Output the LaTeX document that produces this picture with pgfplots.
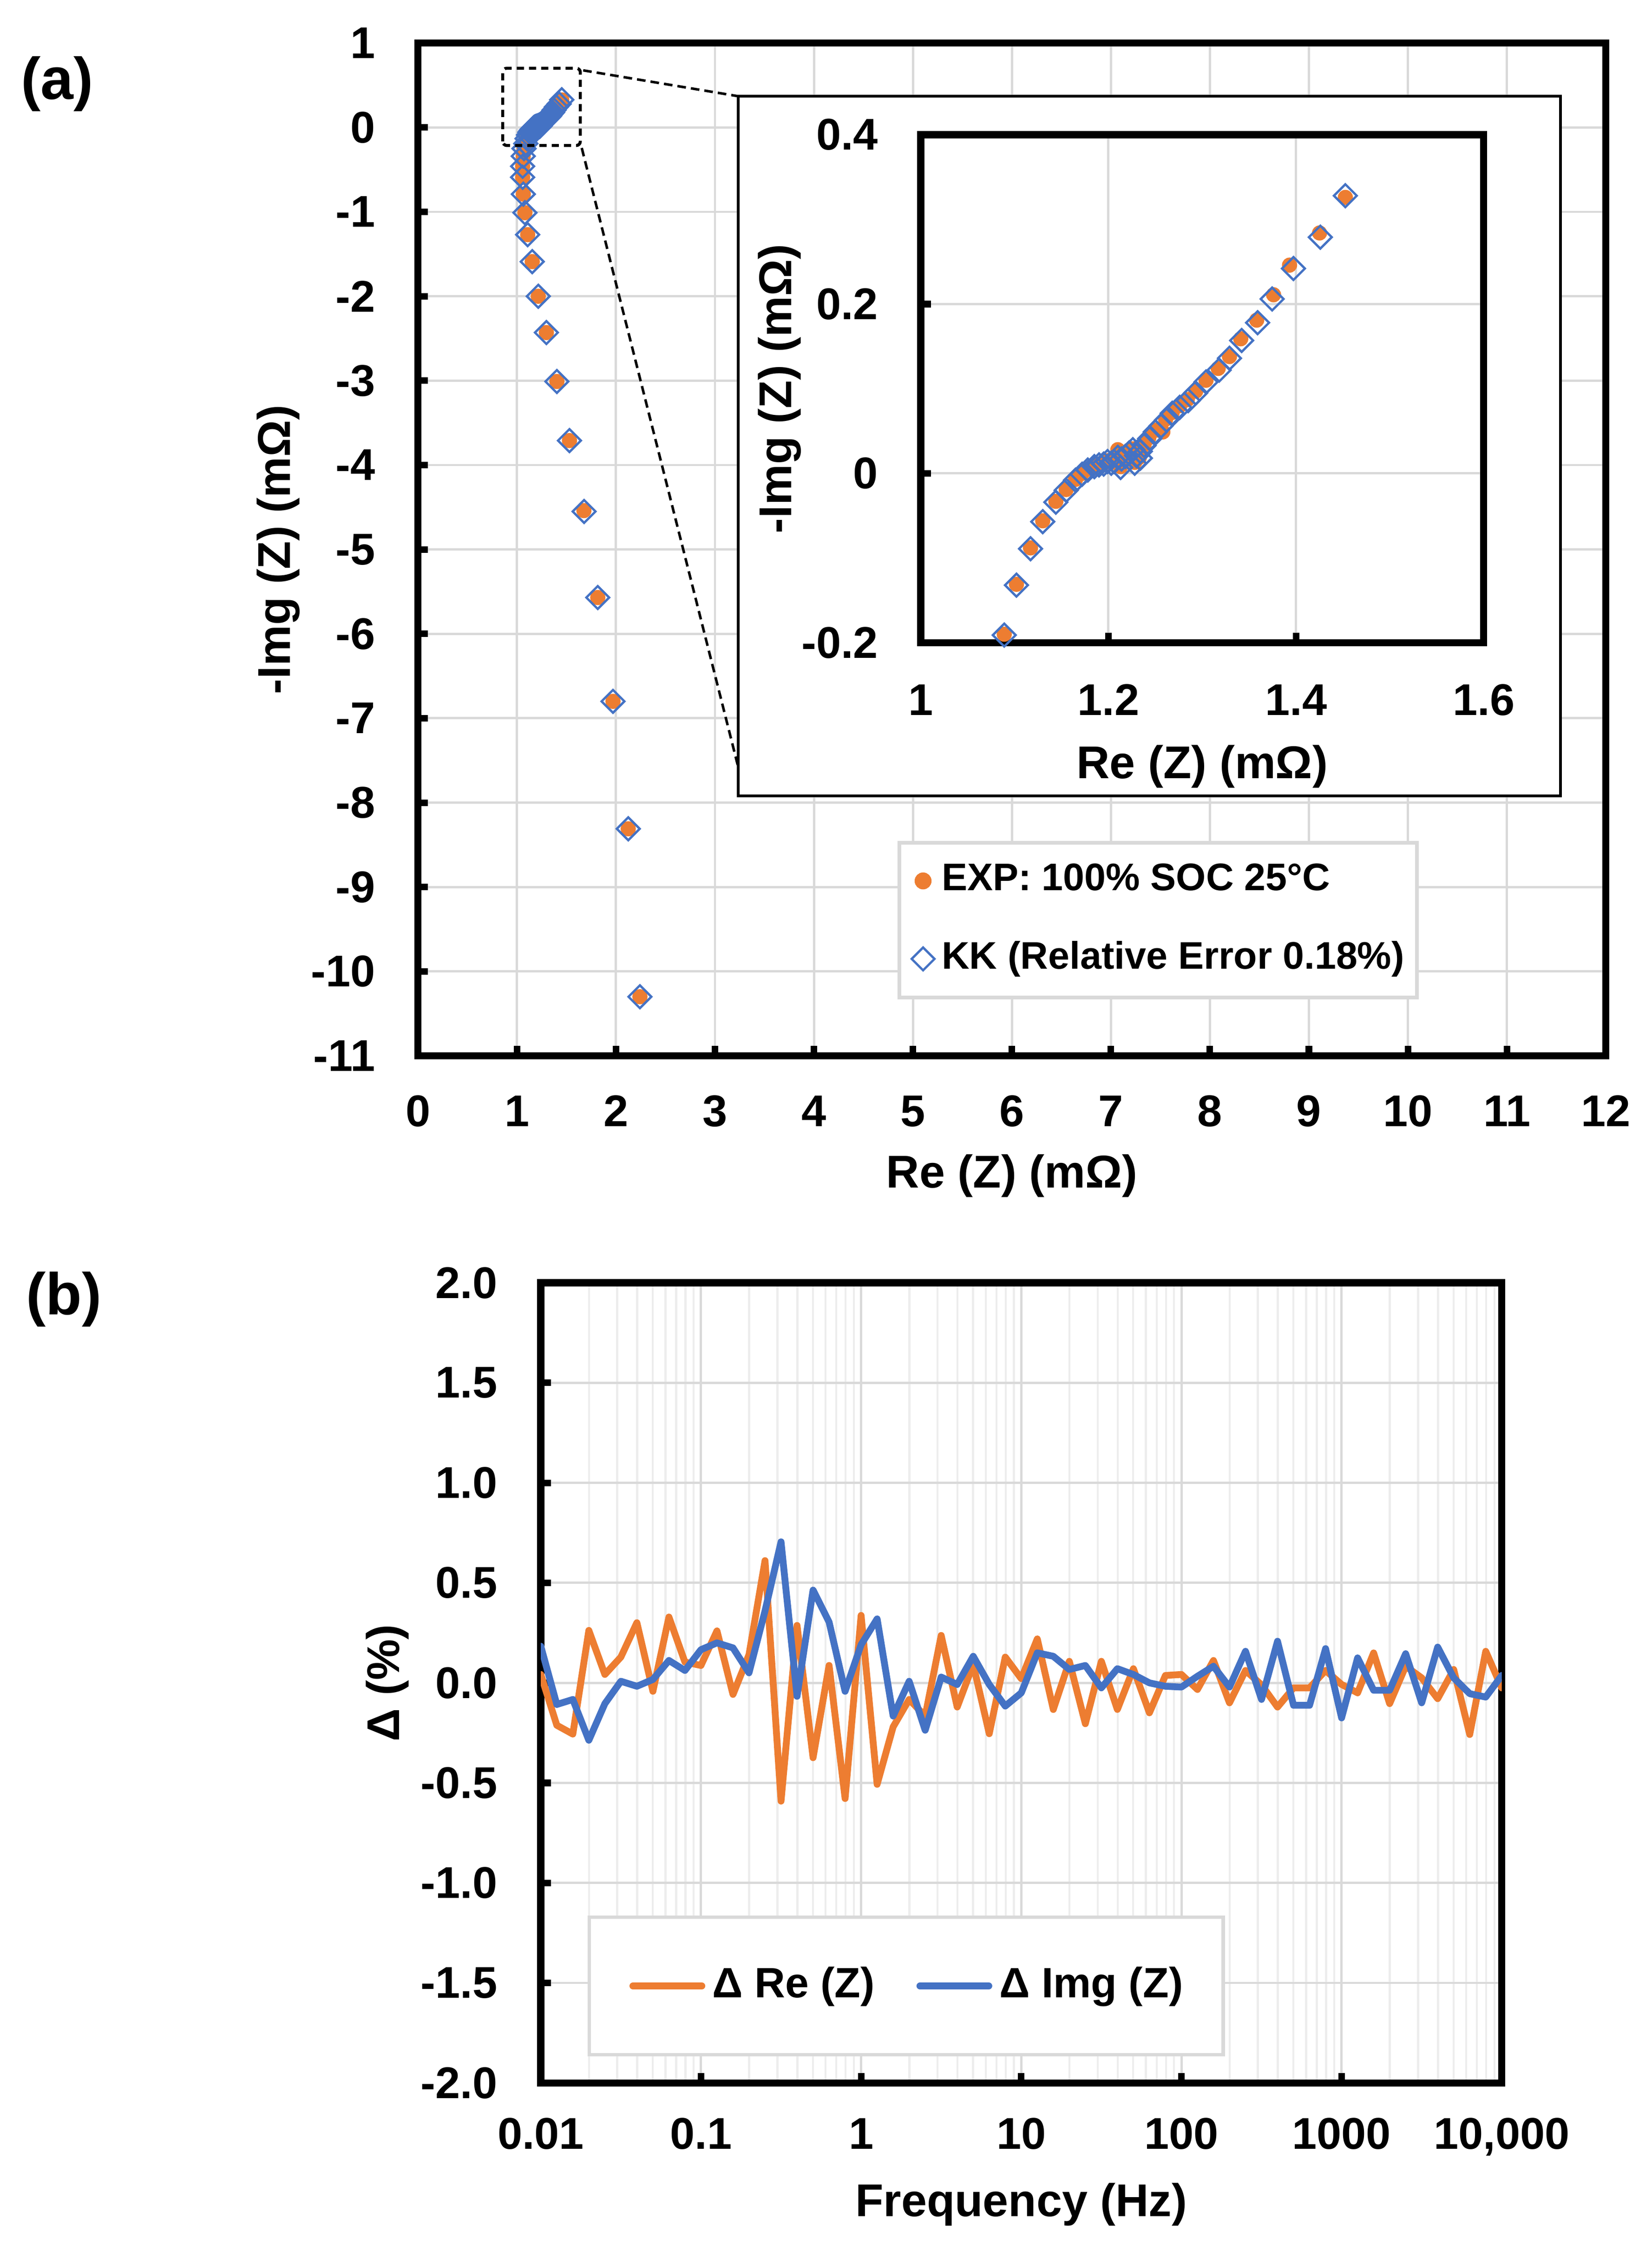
\documentclass[border=0pt]{standalone}
\usepackage{pgfplots}
\pgfplotsset{compat=1.18}
\usepackage{fontspec}
\setmainfont{Liberation Sans}
\definecolor{exor}{HTML}{ED7D31}
\definecolor{exbl}{HTML}{4472C4}
\definecolor{gridg}{HTML}{D9D9D9}
\definecolor{gridm}{HTML}{EDEDED}
\newcommand\tkf{\fontsize{8.8}{10}\selectfont\bfseries}
\newcommand\lbf{\fontsize{9.1}{11}\selectfont\bfseries}
\pgfplotsset{
  excel/.style={
    scale only axis,
    /pgf/number format/assume math mode=true,
    axis line style={line width=1.4pt, line cap=rect},
    tick align=inside, tick pos=left,
    major tick length=0.07cm,
    major tick style={line width=1.3pt, black},
    grid=major,
    major grid style={gridg, line width=0.45pt},
    tick label style={font=\tkf},
    label style={font=\lbf},
    yticklabel style={anchor=east, inner sep=0pt},
    xticklabel style={anchor=base, inner sep=0pt},
  },
  singlemark/.style={legend image code/.code={\draw[##1] plot coordinates {(0cm,0cm)};}},
  shortline/.style={legend image code/.code={\draw[##1] (0cm,0cm) -- (0.48cm,0cm);}},
}
\pgfplotstableread{
x y
1.4525 0.328
1.4258 0.279
1.3972 0.242
1.3745 0.206
1.3590 0.178
1.3420 0.157
1.3290 0.136
1.3180 0.122
1.3040 0.108
1.2930 0.095
1.2850 0.086
1.2760 0.078
1.2680 0.071
1.2620 0.063
1.2560 0.056
1.2500 0.049
1.2440 0.041
1.2380 0.033
1.2340 0.026
1.2300 0.021
1.2340 0.018
1.2280 0.012
1.2260 0.028
1.2220 0.024
1.2180 0.020
1.2140 0.017
1.2130 0.007
1.2100 0.019
1.2060 0.014
1.2030 0.012
1.1990 0.014
1.1950 0.011
1.1900 0.010
1.1850 0.008
1.1780 0.004
1.1720 -0.001
1.1650 -0.008
1.1550 -0.020
1.1440 -0.034
1.1300 -0.057
1.1170 -0.089
1.1020 -0.132
1.0890 -0.191
1.0710 -0.25
1.0630 -0.34
1.0570 -0.46
1.0570 -0.59
1.0640 -0.79
1.0800 -1.01
1.1080 -1.27
1.1540 -1.59
1.2150 -2.00
1.2970 -2.43
1.4030 -3.01
1.5300 -3.71
1.6780 -4.55
1.8160 -5.57
1.9700 -6.80
2.1240 -8.31
2.2420 -10.30
}\kkdata
\pgfplotstableread{
x y
1.4525 0.326
1.4250 0.284
1.3930 0.246
1.3760 0.211
1.3580 0.181
1.3410 0.159
1.3290 0.138
1.3170 0.124
1.3040 0.110
1.2930 0.097
1.2840 0.087
1.2760 0.080
1.2680 0.072
1.2610 0.064
1.2580 0.049
1.2500 0.051
1.2430 0.042
1.2380 0.034
1.2340 0.027
1.2300 0.022
1.2330 0.019
1.2280 0.013
1.2260 0.029
1.2210 0.026
1.2180 0.021
1.2100 0.028
1.2130 0.008
1.2100 0.020
1.2060 0.015
1.2030 0.013
1.1990 0.015
1.1950 0.012
1.1900 0.011
1.1850 0.009
1.1780 0.005
1.1720 0.000
1.1650 -0.007
1.1550 -0.019
1.1440 -0.033
1.1300 -0.056
1.1170 -0.088
1.1020 -0.131
1.0890 -0.190
1.0710 -0.25
1.0630 -0.34
1.0570 -0.46
1.0570 -0.59
1.0640 -0.79
1.0800 -1.01
1.1080 -1.27
1.1540 -1.59
1.2150 -2.00
1.2970 -2.43
1.4030 -3.01
1.5300 -3.71
1.6760 -4.54
1.8160 -5.57
1.9700 -6.80
2.1240 -8.31
2.2420 -10.30
}\expdata
\pgfplotstableread{
f re im
0.01 0.042 0.183
0.012589 -0.212 -0.108
0.015849 -0.256 -0.083
0.019953 0.262 -0.287
0.025119 0.042 -0.104
0.031623 0.129 0.008
0.039811 0.301 -0.017
0.050119 -0.042 0.017
0.063096 0.329 0.112
0.079433 0.104 0.062
0.1 0.087 0.166
0.12589 0.260 0.200
0.15849 -0.058 0.175
0.19953 0.141 0.050
0.25119 0.611 0.36
0.31623 -0.591 0.705
0.39811 0.287 -0.067
0.50119 -0.374 0.464
0.63096 0.087 0.304
0.79433 -0.578 -0.042
1 0.337 0.191
1.2589 -0.507 0.320
1.5849 -0.220 -0.166
1.9953 -0.083 0.008
2.5119 -0.166 -0.237
3.1623 0.237 0.029
3.9811 -0.121 -0.008
5.0119 0.092 0.133
6.3096 -0.254 -0.008
7.9433 0.129 -0.116
10 0.021 -0.050
12.589 0.220 0.150
15.849 -0.133 0.133
19.953 0.108 0.067
25.119 -0.204 0.087
31.623 0.108 -0.025
39.811 -0.133 0.071
50.119 0.071 0.042
63.096 -0.150 0.000
79.433 0.037 -0.017
100 0.042 -0.021
125.89 -0.033 0.033
158.49 0.112 0.083
199.53 -0.100 -0.021
251.19 0.062 0.158
316.23 -0.010 -0.083
398.11 -0.121 0.208
501.19 -0.025 -0.112
630.96 -0.025 -0.112
794.33 0.062 0.171
1000 -0.008 -0.175
1258.9 -0.050 0.125
1584.9 0.150 -0.037
1995.3 -0.104 -0.037
2511.9 0.083 0.146
3162.3 0.025 -0.100
3981.1 -0.079 0.179
5011.9 0.067 0.025
6309.6 -0.258 -0.054
7943.3 0.158 -0.071
10000 -0.025 0.037
}\deltadata
\begin{document}
\begin{tikzpicture}
\useasboundingbox (0,0) rectangle (11.50,15.67);
% ---------------- panel (a) ----------------
\begin{axis}[excel, at={(2.91cm,8.32cm)}, anchor=south west,
  width=8.27cm, height=7.05cm,
  xmin=0, xmax=12, ymin=-11, ymax=1,
  xtick={0,1,2,3,4,5,6,7,8,9,10,11,12},
  xticklabels={0,1,2,3,4,5,6,7,8,9,10,11,12},
  ytick={-11,-10,-9,-8,-7,-6,-5,-4,-3,-2,-1,0,1},
  yticklabels={-11,-10,-9,-8,-7,-6,-5,-4,-3,-2,-1,0,1},
  xticklabel style={yshift=-0.49cm},
  yticklabel style={xshift=-0.29cm},
  xlabel={Re (Z) (mΩ)}, ylabel={-Img (Z) (mΩ)},
  xlabel style={at={(axis description cs:0.5,-0.1305)}, anchor=base},
  ylabel style={at={(axis description cs:-0.1075,0.5)}, anchor=base},
  legend cell align=left,
  legend style={at={(axis description cs:0.4036,0.2121)}, anchor=north west,
    draw=gridg, line width=0.75pt, fill=white,
    font=\fontsize{7.6}{9}\selectfont\bfseries,
    inner xsep=0.086cm, inner ysep=0.145cm, row sep=0.30cm,
    nodes={inner sep=0pt},
    /tikz/every odd column/.append style={column sep=0.05cm}},
]
\addplot[only marks, mark=*, mark size=1.3pt, color=exor,
  mark options={draw=none, fill=exor}, singlemark]
  table[x=x,y=y] {\expdata};
\addlegendentry{EXP: 100\% SOC 25°C}
\addplot[only marks, mark=square, mark size=1.6pt, color=exbl,
  mark options={draw=exbl, fill=none, line width=0.45pt, rotate=45}, singlemark]
  table[x=x,y=y] {\kkdata};
\addlegendentry{KK (Relative Error 0.18\%)}
\end{axis}
% zoom annotation
\draw[black, line width=0.6pt, dash pattern=on 0.05cm off 0.035cm, rounded corners=0.8pt]
  (3.50,14.657) rectangle (4.04,15.195);
\draw[black, line width=0.5pt, dash pattern=on 0.06cm off 0.035cm]
  (4.06,15.18) -- (5.14,15.00);
\draw[black, line width=0.5pt, dash pattern=on 0.06cm off 0.035cm]
  (4.05,14.64) -- (5.19,10.13);
\draw[black, line width=0.55pt, fill=white] (5.14,10.13) rectangle (10.863,15.00);
% ---------------- inset ----------------
\begin{axis}[excel, at={(6.41cm,11.195cm)}, anchor=south west,
  width=3.92cm, height=3.536cm,
  xmin=1, xmax=1.6, ymin=-0.2, ymax=0.4,
  xtick={1,1.2,1.4,1.6}, xticklabels={1,1.2,1.4,1.6},
  ytick={-0.2,0,0.2,0.4}, yticklabels={-0.2,0,0.2,0.4},
  xticklabel style={yshift=-0.505cm},
  yticklabel style={xshift=-0.29cm},
  xlabel={Re (Z) (mΩ)}, ylabel={-Img (Z) (mΩ)},
  xlabel style={at={(axis description cs:0.5,-0.2673)}, anchor=base},
  ylabel style={at={(axis description cs:-0.2296,0.5)}, anchor=base},
]
\addplot[only marks, mark=*, mark size=1.3pt, color=exor,
  mark options={draw=none, fill=exor}]
  table[x=x,y=y] {\expdata};
\addplot[only marks, mark=square, mark size=1.6pt, color=exbl,
  mark options={draw=exbl, fill=none, line width=0.45pt, rotate=45}]
  table[x=x,y=y] {\kkdata};
\end{axis}
% ---------------- panel (b) ----------------
\begin{axis}[excel, at={(3.765cm,1.17cm)}, anchor=south west,
  width=6.69cm, height=5.57cm,
  xmode=log, xmin=0.01, xmax=10000, ymin=-2, ymax=2,
  xtick={0.01,0.1,1,10,100,1000,10000},
  xticklabels={0.01,0.1,1,10,100,1000,{10,000}},
  minor xtick={0.02,0.03,0.04,0.05,0.06,0.07,0.08,0.09,
    0.2,0.3,0.4,0.5,0.6,0.7,0.8,0.9,2,3,4,5,6,7,8,9,
    20,30,40,50,60,70,80,90,200,300,400,500,600,700,800,900,
    2000,3000,4000,5000,6000,7000,8000,9000},
  minor tick length=0pt,
  xminorgrids=true,
  minor grid style={gridm, line width=0.4pt},
  ytick={-2,-1.5,-1,-0.5,0,0.5,1,1.5,2},
  yticklabels={-2.0,-1.5,-1.0,-0.5,0.0,0.5,1.0,1.5,2.0},
  xticklabel style={yshift=-0.46cm},
  yticklabel style={xshift=-0.296cm},
  xlabel={Frequency (Hz)}, ylabel={Δ (\%)},
  xlabel style={at={(axis description cs:0.5,-0.167)}, anchor=base},
  ylabel style={at={(axis description cs:-0.1472,0.5)}, anchor=base},
  legend columns=2,
  legend cell align=left,
  legend style={at={(axis description cs:0.0486,0.1212)}, anchor=west,
    draw=gridg, line width=0.7pt, fill=white,
    font=\fontsize{8.4}{10}\selectfont\bfseries,
    inner xsep=0.28cm, inner ysep=0.345cm,
    nodes={inner sep=0pt},
    /tikz/every odd column/.append style={column sep=0.05cm},
    /tikz/every even column/.append style={column sep=0.29cm}},
]
\addplot[exor, line width=1.35pt, line join=round, line cap=round, shortline]
  table[x=f,y=re] {\deltadata};
\addlegendentry{Δ Re (Z)}
\addplot[exbl, line width=1.35pt, line join=round, line cap=round, shortline]
  table[x=f,y=im] {\deltadata};
\addlegendentry{Δ Img (Z)}
\end{axis}
% panel letters
\node[anchor=base west, inner sep=0pt, font=\fontsize{11.7}{14}\selectfont\bfseries] at (0.14,14.98) {(a)};
\node[anchor=base west, inner sep=0pt, font=\fontsize{11.7}{14}\selectfont\bfseries] at (0.176,6.52) {(b)};
\end{tikzpicture}
\end{document}
